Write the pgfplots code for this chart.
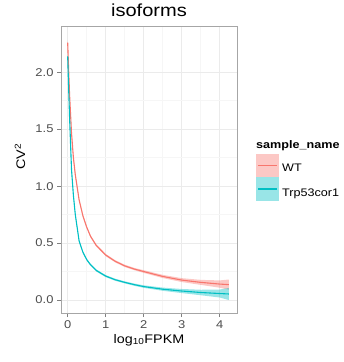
\documentclass[border=0pt]{standalone}
\usepackage{pgfplots}
\pgfplotsset{compat=1.18}
\usepgfplotslibrary{fillbetween}
\usepackage{fontspec}
\setmainfont{Liberation Sans}[FakeStretch=1.15]
\definecolor{wt}{HTML}{F8766D}
\definecolor{trp}{HTML}{00BFC4}
\definecolor{gridmaj}{HTML}{EBEBEB}
\definecolor{gridmin}{HTML}{F6F6F6}
\definecolor{ticklab}{HTML}{4D4D4D}
\pgfplotstableread{
x y lo hi
0 2.26 2.24 2.28
0.025 2.02 2.00 2.04
0.05 1.80 1.78 1.82
0.1 1.47 1.45 1.49
0.15 1.25 1.235 1.265
0.2 1.10 1.085 1.115
0.3 0.88 0.868 0.892
0.4 0.74 0.73 0.75
0.5 0.64 0.63 0.65
0.6 0.56 0.55 0.57
0.75 0.48 0.47 0.49
1.0 0.395 0.385 0.405
1.25 0.34 0.33 0.35
1.5 0.30 0.29 0.31
1.75 0.272 0.262 0.282
2.0 0.25 0.238 0.262
2.5 0.207 0.193 0.221
3.0 0.175 0.158 0.192
3.5 0.155 0.133 0.177
4.0 0.14 0.108 0.172
4.24 0.135 0.09 0.18
}\wtdata
\pgfplotstableread{
x y lo hi
0 2.14 2.12 2.16
0.025 1.86 1.84 1.88
0.05 1.60 1.58 1.62
0.1 1.15 1.135 1.165
0.15 0.92 0.907 0.933
0.2 0.75 0.738 0.762
0.3 0.52 0.51 0.53
0.4 0.42 0.41 0.43
0.5 0.355 0.346 0.364
0.6 0.31 0.301 0.319
0.75 0.26 0.251 0.269
1.0 0.21 0.201 0.219
1.25 0.178 0.169 0.187
1.5 0.155 0.146 0.164
1.75 0.135 0.125 0.145
2.0 0.118 0.107 0.129
2.5 0.095 0.081 0.109
3.0 0.079 0.061 0.097
3.5 0.066 0.042 0.09
4.0 0.057 0.022 0.092
4.24 0.053 0.0 0.106
}\trpdata
\begin{document}
\begin{tikzpicture}
\path (0,0) rectangle (344bp,362bp);
\begin{axis}[
  at={(61bp,49bp)}, anchor=south west,
  scale only axis, width=176bp, height=287bp,
  xmin=-0.176, xmax=4.455, ymin=-0.114, ymax=2.406,
  xtick={0,1,2,3,4}, ytick={0,0.5,1,1.5,2},
  yticklabels={0.0,0.5,1.0,1.5,2.0},
  minor x tick num=1, minor y tick num=1,
  grid=both,
  major grid style={gridmaj, line width=0.7bp},
  minor grid style={gridmin, line width=0.5bp},
  axis line style={black!35, line width=0.7bp},
  tick align=outside, tick pos=left,
  major tick length=4bp, minor tick length=0pt,
  tick style={black!50, line width=0.6bp},
  tick label style={font=\fontsize{11.3}{12}\selectfont, text=ticklab},
  /pgf/number format/assume math mode=true,
  title={isoforms},
  title style={font=\fontsize{17.5}{18}\selectfont, at={(axis description cs:0.5,1)}, anchor=base, yshift=3.5bp},
  xlabel={log\textsubscript{10}FPKM},
  xlabel style={font=\fontsize{12.5}{13}\selectfont, at={(axis description cs:0.5,0)}, anchor=base, yshift=-30bp},
  ylabel={CV\textsuperscript{2}},
  ylabel style={font=\fontsize{12.5}{13}\selectfont, at={(axis description cs:-0.233,0.545)}, anchor=center},
]
\addplot[draw=none, name path=wtU, forget plot] table[x=x, y=hi] {\wtdata};
\addplot[draw=none, name path=wtL, forget plot] table[x=x, y=lo] {\wtdata};
\addplot[wt, fill opacity=0.4, draw=none, forget plot] fill between[of=wtU and wtL];
\addplot[draw=none, name path=trpU, forget plot] table[x=x, y=hi] {\trpdata};
\addplot[draw=none, name path=trpL, forget plot] table[x=x, y=lo] {\trpdata};
\addplot[trp, fill opacity=0.4, draw=none, forget plot] fill between[of=trpU and trpL];
\addplot[wt, line width=1.1bp, no marks] table[x=x, y=y] {\wtdata};
\addplot[trp, line width=1.1bp, no marks] table[x=x, y=y] {\trpdata};
\end{axis}
% legend
\node[anchor=base west, inner sep=0pt, font=\fontsize{11}{12}\selectfont\bfseries] at (256bp,213bp) {sample\_name};
\fill[wt, fill opacity=0.4] (256bp,185.3bp) rectangle (279.3bp,208bp);
\fill[trp, fill opacity=0.4] (256bp,161bp) rectangle (279.3bp,185.3bp);
\draw[wt, line width=1.1bp] (258bp,196.7bp) -- (277.3bp,196.7bp);
\draw[trp, line width=1.1bp] (258bp,173bp) -- (277.3bp,173bp);
\node[anchor=base west, inner sep=0pt, font=\fontsize{11}{12}\selectfont] at (282bp,190.3bp) {WT};
\node[anchor=base west, inner sep=0pt, font=\fontsize{11}{12}\selectfont] at (282bp,165.3bp) {Trp53cor1};
\end{tikzpicture}
\end{document}
